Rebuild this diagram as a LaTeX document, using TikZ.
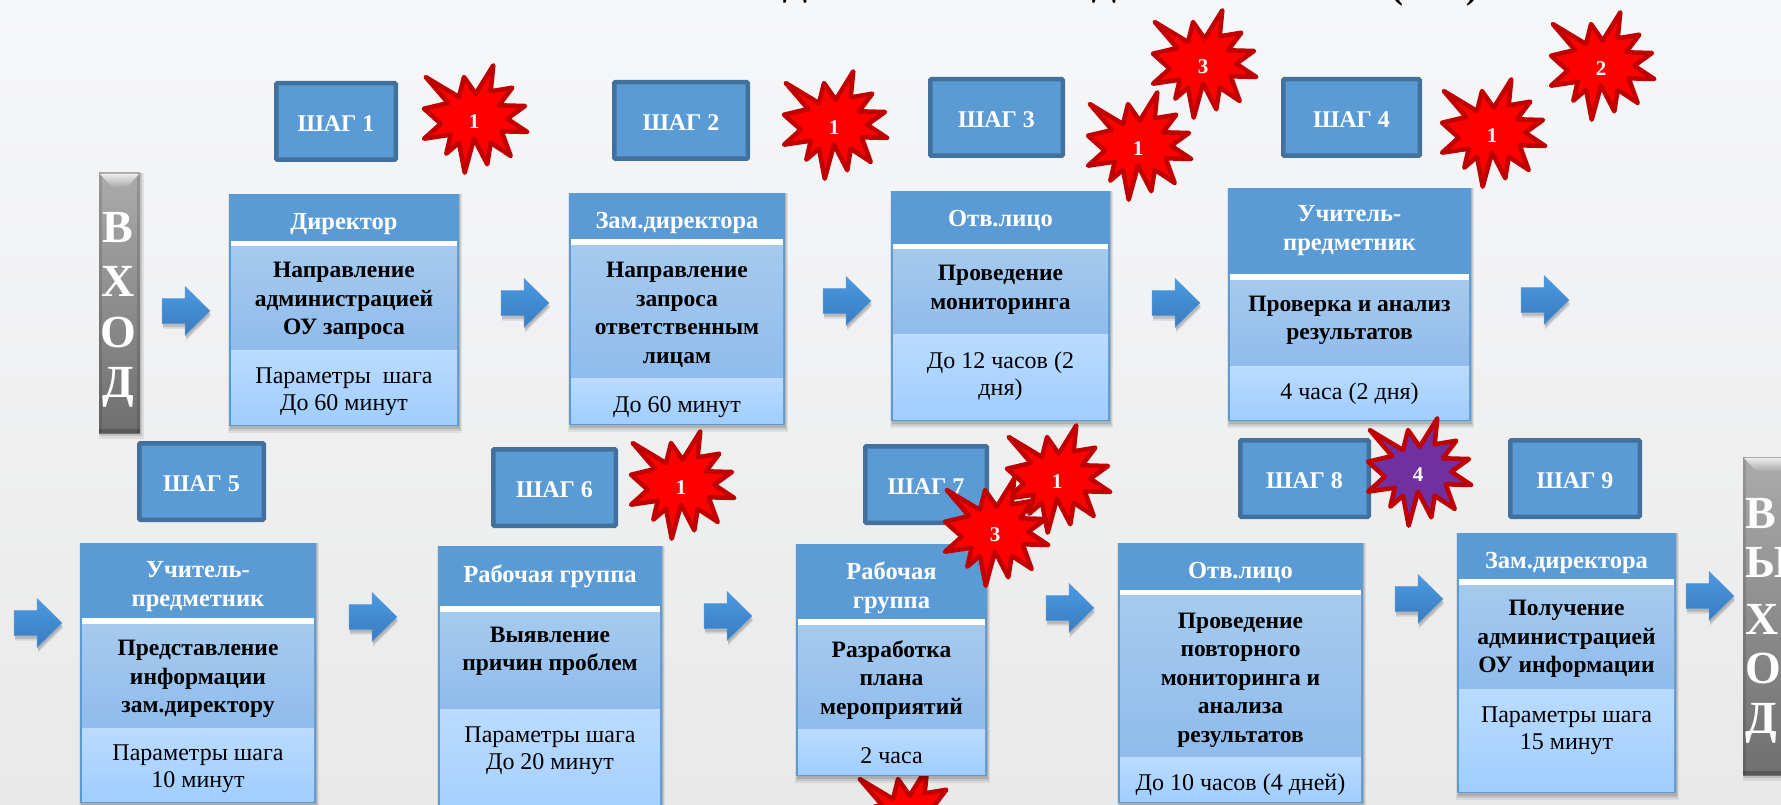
\documentclass[tikz,border=0pt]{standalone}
\usepackage{fontspec}
\setmainfont{Liberation Serif}
\usetikzlibrary{shapes.arrows,shadows}
\definecolor{bgtop}{HTML}{F6F7F9}
\definecolor{bgbot}{HTML}{E9E9E9}
\definecolor{arrowtop}{HTML}{4A9AE0}
\definecolor{arrowbot}{HTML}{3A7BC0}
\definecolor{pillartop}{HTML}{ABABAB}
\definecolor{pillarbot}{HTML}{6F6F6F}
\definecolor{hdrblue}{HTML}{5B9BD5}
\definecolor{tagedge}{HTML}{41719C}
\definecolor{bodytop}{HTML}{A6CAEE}
\definecolor{bodybot}{HTML}{8FBCEC}
\definecolor{partop}{HTML}{BBDBFF}
\definecolor{parbot}{HTML}{9FCEFF}
\definecolor{burstedge}{HTML}{C00000}
\definecolor{burstred}{HTML}{FF0000}
\definecolor{burstpurple}{HTML}{7030A0}
\tikzset{
  x=1pt,y=-1pt,
  tagbox/.style={draw=tagedge,fill=hdrblue,line width=4.5pt,rounded corners=1pt,inner sep=0,
    text=white,font=\fontsize{24}{28}\bfseries\selectfont,text depth=0pt,yshift=-2pt},
  hdrtext/.style={text=white,align=center,inner sep=0,font=\fontsize{24.5}{28.5}\bfseries\selectfont},
  bodytext/.style={text=black,align=center,inner sep=0,font=\fontsize{23.5}{28.5}\bfseries\selectfont},
  partext/.style={text=black,align=center,inner sep=0,font=\fontsize{24}{27}\selectfont},
  arrowshape/.style={top color=arrowtop,bottom color=arrowbot,draw=hdrblue,line width=.5pt},
  burstline/.style={draw=burstedge,line width=4.5pt,line join=round},
  bursttext/.style={text=white,inner sep=0,font=\fontsize{21}{24}\bfseries\selectfont},
  pillartext/.style={text=white,inner sep=0,font=\fontsize{46}{50}\bfseries\selectfont},
  titletext/.style={text=black,inner sep=0,anchor=base,font=\fontsize{36}{40}\bfseries\selectfont},
}
\newcommand{\softshadow}[4]{%
  \fill[black,opacity=.07] (#1-1,#3) rectangle (#2+3,#4+7);
  \fill[black,opacity=.09] (#1,#3) rectangle (#2+2,#4+5);
  \fill[black,opacity=.12] (#1+1,#3) rectangle (#2+1,#4+3);
}
% name x0 x1 ytop ywhite-top ywhite-bottom ydivider ybottom
\newcommand{\card}[8]{%
  \pgfmathsetmacro{\cardxc}{(#2+#3)/2}%
  \softshadow{#2}{#3}{#4}{#8}
  \fill[hdrblue] (#2,#4) rectangle (#3,#8);
  \path[top color=bodytop,bottom color=bodybot] (#2+2,#6) rectangle (#3-2,#7);
  \path[top color=partop,bottom color=parbot] (#2+2,#7+1) rectangle (#3-2,#8-2);
  \fill[white] (#2+2,#5) rectangle (#3-2,#6);
  \coordinate (#1) at (\cardxc,#4);
}
% name yh header yb body yp param (text centres, lowered 3 px to match)
\newcommand{\cardtext}[7]{%
  \node[hdrtext,yshift=-2pt] (#1h) at (\cardxc,#2) {#3};
  \node[bodytext,yshift=-3pt] (#1b) at (\cardxc,#4) {#5};
  \node[partext,yshift=-3pt] (#1p) at (\cardxc,#6) {#7};
}
% name cx cy fill digit
\newcommand{\burst}[5]{%
  \path[burstline,fill=#4,shift={(#2,#3)}]
    (-48.3,-44) -- (-15,-24) -- (-10,-44) -- (1.7,-27.3) -- (19.3,-55.7) -- (16.7,-29.7)
    -- (38.3,-33.3) -- (25,-15.7) -- (51,-15) -- (33.3,-2.3) -- (53.3,11) -- (27.7,10.3)
    -- (36.7,35) -- (16.7,21.7) -- (13.3,43.3) -- (0,17.7) -- (-9.3,51.7) -- (-15,21.7)
    -- (-27.7,32.7) -- (-23.3,13.7) -- (-50,17.7) -- (-33.3,2.7) -- (-50,-12.3) -- (-26,-18) -- cycle;
  \node[bursttext] (#1) at (#2,#3+1) {#5};
}
% name left centre-y
\newcommand{\blockarrow}[3]{%
  \fill[black,opacity=.10,shift={(#2+1,#3+5)}] (0,-12.5) -- (23,-12.5) -- (23,-24.5) -- (48,0) -- (23,24.5) -- (23,12.5) -- (0,12.5) -- cycle;
  \fill[black,opacity=.14,shift={(#2+1,#3+3)}] (0,-12.5) -- (23,-12.5) -- (23,-24.5) -- (48,0) -- (23,24.5) -- (23,12.5) -- (0,12.5) -- cycle;
  \path[arrowshape,shift={(#2,#3)}] (0,-12.5) -- (23,-12.5) -- (23,-24.5) -- (48,0) -- (23,24.5) -- (23,12.5) -- (0,12.5) -- cycle;
  \coordinate (#1) at (#2+24,#3);
}
% x0 x1 ytop ybottom
\newcommand{\pillar}[4]{%
  \fill[black,opacity=.08] (#1,#3) rectangle (#2+4,#4+6);
  \fill[black,opacity=.12] (#1+1,#3) rectangle (#2+2,#4+3);
  \path[top color=pillartop,bottom color=pillarbot] (#1,#3) rectangle (#2,#4);
  \fill[black,opacity=.12] (#1,#3) rectangle (#1+3,#4);
  \fill[black,opacity=.12] (#2-3,#3) rectangle (#2,#4);
  \fill[black,opacity=.2] (#1,#4-4) rectangle (#2,#4);
  \path[top color=white!92!black,bottom color=pillartop] (#1+1,#3+1) -- (#2-1,#3+1) -- (#2-13,#3+14) -- (#1+13,#3+14) -- cycle;
}
\begin{document}
\begin{tikzpicture}
\clip (0,0) rectangle (1781,805);
\path[top color=bgtop,bottom color=bgbot] (0,0) rectangle (1781,805);
% cut-off title
\node[titletext] (t1) at (795,-4) {Д};
\node[titletext] (t2) at (1104,-4) {Д};
\node[titletext] (t3) at (1397,-1) {(};
\node[titletext] (t4) at (1472,-1) {)};
% entry and exit
\pillar{99}{140}{173}{433}
\node[pillartext] (v1) at (118,228) {В};
\node[pillartext] (v2) at (118,281) {Х};
\node[pillartext] (v3) at (118,332) {О};
\node[pillartext] (v4) at (118,387) {Д};
\pillar{1743}{1800}{457}{775}
\node[pillartext,anchor=west] (e1) at (1745,514) {В};
\node[pillartext,anchor=west] (e2) at (1745,562) {Ы};
\node[pillartext,anchor=west] (e3) at (1745,619) {Х};
\node[pillartext,anchor=west] (e4) at (1745,668) {О};
\node[pillartext,anchor=west] (e5) at (1745,723) {Д};
% burst hidden under the card of step 7
\burst{b0}{908}{823}{burstred}{}
% cards
\card{c1}{229}{459}{194}{241}{246}{349}{426}
\cardtext{c1}{222}{Директор}{298}{Направление\\администрацией\\ОУ запроса}{389}{Параметры\ \ шага\\До 60 минут}
\card{c2}{569}{785}{193}{239}{245}{377}{425}
\cardtext{c2}{221}{Зам.директора}{312}{Направление\\запроса\\ответственным\\лицам}{404}{До 60 минут}
\card{c3}{891}{1110}{191}{244}{249}{333}{421}
\cardtext{c3}{219}{Отв.лицо}{287}{Проведение\\мониторинга}{373}{До 12 часов (2\\дня)}
\card{c4}{1228}{1471}{188}{274}{280}{365}{421}
\cardtext{c4}{228.5}{Учитель-\\предметник}{317.5}{Проверка и анализ\\результатов}{391}{4 часа (2 дня)}
\card{c5}{80}{316}{543}{618}{624}{727}{803}
\cardtext{c5}{584.5}{Учитель-\\предметник}{676}{Представление\\информации\\зам.директору}{766}{Параметры шага\\10 минут}
\card{c6}{438}{662}{546}{606}{612}{708}{830}
\cardtext{c6}{574}{Рабочая группа}{648.5}{Выявление\\причин проблем}{747.5}{Параметры шага\\До 20 минут}
\card{c7}{796}{987}{544}{619}{625}{728}{776}
\cardtext{c7}{586}{Рабочая\\группа}{677}{Разработка\\плана\\мероприятий}{753}{2 часа}
\card{c8}{1118}{1363}{543}{590}{595}{756}{803}
\cardtext{c8}{571}{Отв.лицо}{677}{Проведение\\повторного\\мониторинга и\\анализа\\результатов}{782}{До 10 часов (4 дней)}
\card{c9}{1457}{1676}{533}{579}{585}{688}{793}
\cardtext{c9}{561}{Зам.директора}{636}{Получение\\администрацией\\ОУ информации}{727.5}{Параметры шага\\15 минут}
% arrows
\blockarrow{a1}{162}{311}
\blockarrow{a2}{501}{303}
\blockarrow{a3}{823}{301}
\blockarrow{a4}{1152}{303}
\blockarrow{a5}{1521}{300}
\blockarrow{a6}{14}{623}
\blockarrow{a7}{349}{617}
\blockarrow{a8}{704}{616}
\blockarrow{a9}{1046}{608}
\blockarrow{a10}{1395}{599}
\blockarrow{a11}{1686}{596}
% step tags
\path[draw=tagedge,fill=hdrblue,line width=4.5pt,rounded corners=1pt] (276.25,83.25) rectangle (395.75,159.75);
\node[tagbox,draw=none,fill=none] (s1) at (336,121.5) {ШАГ 1};
\path[draw=tagedge,fill=hdrblue,line width=4.5pt,rounded corners=1pt] (614.25,82.25) rectangle (747.75,158.75);
\node[tagbox,draw=none,fill=none] (s2) at (681,120.5) {ШАГ 2};
\path[draw=tagedge,fill=hdrblue,line width=4.5pt,rounded corners=1pt] (930.25,79.25) rectangle (1062.75,155.75);
\node[tagbox,draw=none,fill=none] (s3) at (996.5,117.5) {ШАГ 3};
\path[draw=tagedge,fill=hdrblue,line width=4.5pt,rounded corners=1pt] (1283.25,79.25) rectangle (1419.75,155.75);
\node[tagbox,draw=none,fill=none] (s4) at (1351.5,117.5) {ШАГ 4};
\path[draw=tagedge,fill=hdrblue,line width=4.5pt,rounded corners=1pt] (139.25,443.25) rectangle (263.75,519.75);
\node[tagbox,draw=none,fill=none] (s5) at (201.5,481.5) {ШАГ 5};
\path[draw=tagedge,fill=hdrblue,line width=4.5pt,rounded corners=1pt] (493.25,449.25) rectangle (615.75,525.75);
\node[tagbox,draw=none,fill=none] (s6) at (554.5,487.5) {ШАГ 6};
\path[draw=tagedge,fill=hdrblue,line width=4.5pt,rounded corners=1pt] (865.25,446.25) rectangle (986.75,522.75);
\node[tagbox,draw=none,fill=none] (s7) at (926,484.5) {ШАГ 7};
\path[draw=tagedge,fill=hdrblue,line width=4.5pt,rounded corners=1pt] (1240.25,440.25) rectangle (1368.75,516.75);
\node[tagbox,draw=none,fill=none] (s8) at (1304.5,478.5) {ШАГ 8};
\path[draw=tagedge,fill=hdrblue,line width=4.5pt,rounded corners=1pt] (1510.25,440.25) rectangle (1639.75,516.75);
\node[tagbox,draw=none,fill=none] (s9) at (1575,478.5) {ШАГ 9};
% bursts
\burst{b1}{474}{121}{burstred}{1}
\burst{b2}{834}{127}{burstred}{1}
\burst{b3}{1203}{66}{burstred}{3}
\burst{b4}{1138}{148}{burstred}{1}
\burst{b5}{1492}{135}{burstred}{1}
\burst{b6}{1601}{68}{burstred}{2}
\burst{b7}{681}{487}{burstred}{1}
\burst{b8}{1057}{481}{burstred}{1}
\burst{b9}{995}{534}{burstred}{3}
\burst{b10}{1418}{474}{burstpurple}{4}
\end{tikzpicture}
\end{document}
